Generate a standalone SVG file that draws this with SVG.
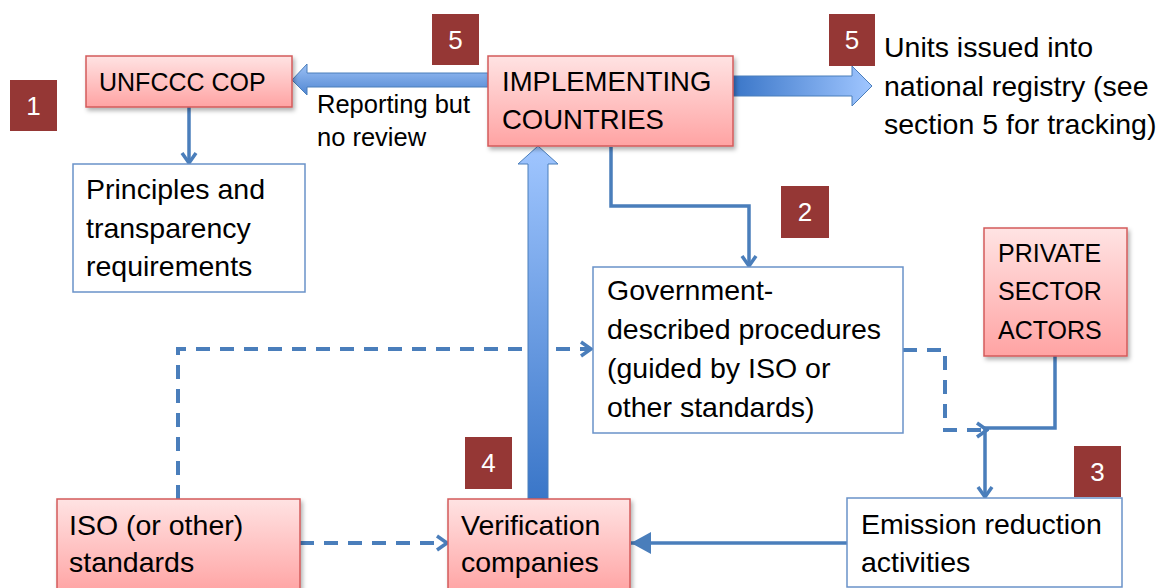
<svg xmlns="http://www.w3.org/2000/svg" width="1165" height="588" viewBox="0 0 1165 588">
<style>
text{font-family:"Liberation Sans",Arial,sans-serif;fill:#000}
.t{font-size:28.5px}
.cap{font-size:25px}
.big{font-size:27.5px}
.small{font-size:25.5px}
.num{font-size:26px;fill:#fff;text-anchor:middle}
.red{fill:url(#redGrad);stroke:#D35B5B;stroke-width:1.5;filter:url(#shadow)}
.blue{fill:#fff;stroke:#6A92C9;stroke-width:1.5}
.badge{fill:#953735}
.line{fill:none;stroke:#4A7EBB;stroke-width:3.5}
.dash{fill:none;stroke:#4A7EBB;stroke-width:4;stroke-dasharray:14 10}
</style>
<defs>
<linearGradient id="redGrad" x1="0" y1="0" x2="0" y2="1">
<stop offset="0" stop-color="#FFE3E3"/>
<stop offset="1" stop-color="#FFA3A3"/>
</linearGradient>
<linearGradient id="leftGrad" x1="0" y1="0" x2="0" y2="1">
<stop offset="0" stop-color="#9DC1F5"/>
<stop offset="1" stop-color="#4F86D2"/>
</linearGradient>
<linearGradient id="rightGrad" x1="733" y1="0" x2="872" y2="0" gradientUnits="userSpaceOnUse">
<stop offset="0" stop-color="#3A76C8"/>
<stop offset="1" stop-color="#A0C6FF"/>
</linearGradient>
<linearGradient id="upGrad" x1="0" y1="499" x2="0" y2="146" gradientUnits="userSpaceOnUse">
<stop offset="0" stop-color="#3A76C8"/>
<stop offset="1" stop-color="#A0C6FF"/>
</linearGradient>
<filter id="shadow" x="-10%" y="-10%" width="130%" height="140%">
<feDropShadow dx="2" dy="3" stdDeviation="2" flood-color="#000" flood-opacity="0.3"/>
</filter>
<marker id="chev" viewBox="0 0 14 18" refX="12" refY="9" markerWidth="14" markerHeight="18" markerUnits="userSpaceOnUse" orient="auto">
<path d="M2,2 L12,9 L2,16" fill="none" stroke="#4A7EBB" stroke-width="3.5"/>
</marker>
<marker id="tri" viewBox="0 0 20 22" refX="20" refY="11" markerWidth="20" markerHeight="22" markerUnits="userSpaceOnUse" orient="auto">
<path d="M0,0 L20,11 L0,22 z" fill="#4A7EBB"/>
</marker>
</defs>

<g id="connectors">
<path class="line" d="M189 107 V163" marker-end="url(#chev)"/>
<path class="line" d="M611 147 V206 H749 V266" marker-end="url(#chev)"/>
<path class="dash" d="M178 499 V349 H591" marker-end="url(#chev)"/>
<path class="dash" d="M300 543 H447" marker-end="url(#chev)"/>
<path class="dash" d="M903 350 H945 V430 H987" marker-end="url(#chev)"/>
<path class="line" d="M1055 356 V428 H985 V497" marker-end="url(#chev)"/>
<path class="line" d="M847 543 H631" marker-end="url(#tri)"/>
<polygon points="488,73 307,73 307,64 292,80 307,95 307,87 488,87" fill="url(#leftGrad)" stroke="#4A7EBB" stroke-width="1"/>
<polygon points="733,76 852,76 852,66 872,86 852,106 852,96 733,96" fill="url(#rightGrad)" stroke="#4A7EBB" stroke-width="1"/>
<polygon points="528,499 528,164 518,164 538,146 558,164 548,164 548,499" fill="url(#upGrad)" stroke="#4A7EBB" stroke-width="1"/>
<text class="small" x="317" y="113">Reporting but</text>
<text class="small" x="317" y="146">no review</text>
</g>

<g id="unfccc">
<rect class="red" x="86" y="56" width="206" height="51"/>
<text class="cap" x="99" y="91">UNFCCC COP</text>
</g>
<g id="principles">
<rect class="blue" x="73" y="164" width="232" height="128"/>
<text class="t" x="86" y="199">Principles and</text>
<text class="t" x="86" y="238">transparency</text>
<text class="t" x="86" y="276">requirements</text>
</g>
<g id="implementing">
<rect class="red" x="488" y="56" width="245" height="90"/>
<text class="big" x="502" y="91">IMPLEMENTING</text>
<text class="big" x="502" y="129">COUNTRIES</text>
</g>
<g id="units">
<text class="t" x="884" y="57">Units issued into</text>
<text class="t" x="884" y="96">national registry (see</text>
<text class="t" x="884" y="134">section 5 for tracking)</text>
</g>
<g id="government">
<rect class="blue" x="593" y="267" width="310" height="166"/>
<text class="t" x="607" y="300">Government-</text>
<text class="t" x="607" y="339">described procedures</text>
<text class="t" x="607" y="378">(guided by ISO or</text>
<text class="t" x="607" y="417">other standards)</text>
</g>
<g id="private">
<rect class="red" x="984" y="228" width="143" height="128"/>
<text class="cap" x="998" y="262">PRIVATE</text>
<text class="cap" x="998" y="300">SECTOR</text>
<text class="cap" x="998" y="339">ACTORS</text>
</g>
<g id="iso">
<rect class="red" x="57" y="499" width="243" height="95"/>
<text class="t" x="69" y="535">ISO (or other)</text>
<text class="t" x="69" y="572">standards</text>
</g>
<g id="verification">
<rect class="red" x="448" y="499" width="182" height="95"/>
<text class="t" x="461" y="535">Verification</text>
<text class="t" x="461" y="572">companies</text>
</g>
<g id="emission">
<rect class="blue" x="847" y="498" width="275" height="89"/>
<text class="t" x="861" y="534">Emission reduction</text>
<text class="t" x="861" y="572">activities</text>
</g>

<g id="badge1"><rect class="badge" x="10" y="80" width="47" height="51"/><text class="num" x="33.5" y="115">1</text></g>
<g id="badge5a"><rect class="badge" x="432" y="14" width="47" height="51"/><text class="num" x="455.5" y="49">5</text></g>
<g id="badge5b"><rect class="badge" x="829" y="14" width="46" height="52"/><text class="num" x="852" y="49">5</text></g>
<g id="badge2"><rect class="badge" x="781" y="186" width="48" height="52"/><text class="num" x="805" y="221">2</text></g>
<g id="badge4"><rect class="badge" x="465" y="437" width="47" height="52"/><text class="num" x="488.5" y="472">4</text></g>
<g id="badge3"><rect class="badge" x="1074" y="446" width="47" height="51"/><text class="num" x="1097.5" y="481">3</text></g>
</svg>
